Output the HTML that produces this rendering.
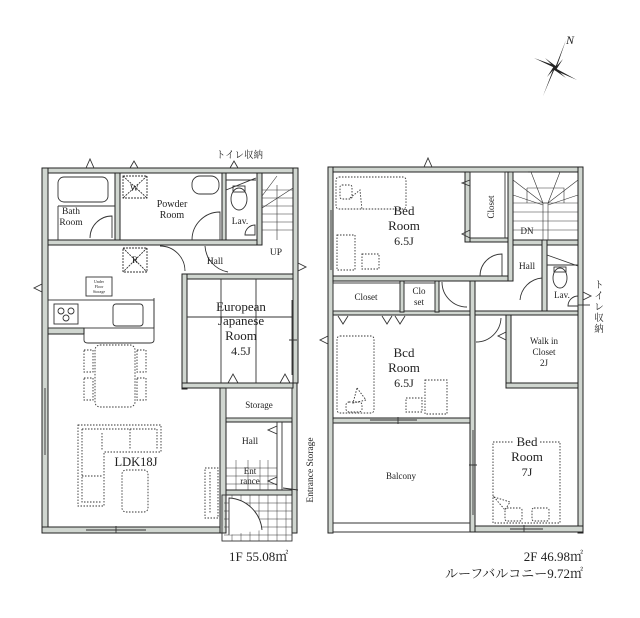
<!DOCTYPE html>
<html><head><meta charset="utf-8"><style>
html,body{margin:0;padding:0;background:#fff;}
svg{display:block;}
text{font-family:"Liberation Serif","Noto Serif CJK SC",serif;fill:#222;}
</style></head><body>
<svg width="640" height="618" viewBox="0 0 640 618" xmlns="http://www.w3.org/2000/svg">
<rect width="640" height="618" fill="#fff"/>
<g fill="#d0d6d0" stroke="#222" stroke-width="1">
<rect x="42" y="168" width="256" height="5"/>
<rect x="42" y="168" width="6" height="365"/>
<rect x="293" y="168" width="5" height="215"/>
<rect x="42" y="527" width="182" height="6"/>
<rect x="292" y="383" width="5" height="150"/>
<rect x="48" y="240" width="214" height="5"/>
<rect x="115" y="173" width="5" height="67"/>
<rect x="222" y="173" width="4" height="67"/>
<rect x="257" y="173" width="5" height="72"/>
<rect x="182" y="274" width="111" height="5"/>
<rect x="182" y="274" width="5" height="115"/>
<rect x="182" y="383" width="111" height="5"/>
<rect x="220" y="388" width="6" height="145"/>
<rect x="226" y="418" width="66" height="4"/>
<rect x="226" y="490" width="66" height="5"/>
<rect x="48" y="328" width="36" height="6"/>
<rect x="328" y="167" width="255" height="5"/>
<rect x="328" y="167" width="5" height="366"/>
<rect x="578" y="167" width="5" height="366"/>
<rect x="470" y="526" width="113" height="6"/>
<rect x="333" y="276" width="180" height="5"/>
<rect x="508" y="172" width="5" height="109"/>
<rect x="465" y="172" width="5" height="70"/>
<rect x="470" y="238" width="38" height="4"/>
<rect x="513" y="240" width="65" height="5"/>
<rect x="542" y="240" width="5" height="75"/>
<rect x="333" y="311" width="137" height="4"/>
<rect x="400" y="281" width="4" height="31"/>
<rect x="435" y="281" width="4" height="31"/>
<rect x="470" y="281" width="5" height="251"/>
<rect x="475" y="311" width="103" height="4"/>
<rect x="506" y="315" width="5" height="73"/>
<rect x="506" y="383" width="72" height="5"/>
<rect x="333" y="418" width="137" height="5"/>
</g>
<g fill="none" stroke="#333" stroke-width="0.9">
<rect x="58" y="177" width="50" height="25" rx="6"/>
<path d="M58 206 H115"/>
<path d="M58 206 V240"/>
<path d="M90 238 A22 22 0 0 1 112 216 V238"/>
<rect x="123" y="176" width="24" height="22" stroke-dasharray="2 1"/>
<path d="M123 176 L147 198 M147 176 L123 198" stroke-dasharray="2 1"/>
<rect x="192" y="176" width="27" height="18" rx="8"/>
<path d="M192 240 A28 28 0 0 1 220 212 V240"/>
<path d="M226 190 L256 178 M226 180 H256"/>
<ellipse cx="239" cy="199" rx="8" ry="11"/>
<rect x="233" y="186" width="12" height="6"/>
<path d="M245 235 A10 10 0 0 1 255 225 V235 Z"/>
<g stroke-width="0.6">
<path d="M277 185 V240"/>
<path d="M262 190 H293 M262 198 H293 M262 206 H293 M262 214 H293 M262 222 H293 M262 230 H293"/>
<path d="M262 208 L293 188 M262 196 L277 176"/>
</g>
<path d="M160 246 A25 25 0 0 1 185 271"/>
<path d="M228 272 A28 28 0 0 1 205 246"/>
<rect x="123" y="248" width="24" height="24" stroke-dasharray="2 1"/>
<path d="M123 248 L147 272 M147 248 L123 272" stroke-dasharray="2 1"/>
<rect x="86" y="277" width="26" height="19"/>
<rect x="48" y="300" width="106" height="28"/>
<path d="M154 298 V340 Q154 343 150 343 H88 Q84 343 84 340 V334"/>
<rect x="54" y="304" width="24" height="20"/>
<circle cx="61" cy="311" r="3"/><circle cx="71" cy="311" r="3"/><circle cx="66" cy="318" r="3"/>
<rect x="113" y="304" width="30" height="22" rx="3"/>
<g stroke-dasharray="1.5 1.5">
<rect x="95" y="345" width="40" height="62" rx="5"/>
<rect x="84" y="350" width="9" height="22"/><rect x="84" y="378" width="9" height="22"/>
<rect x="137" y="350" width="9" height="22"/><rect x="137" y="378" width="9" height="22"/>
<path d="M78 425 H161 V452 H104 V506 H78 Z"/>
<path d="M82 429 H157 V450 M82 429 V502 H102 M102 433 V450 M130 429 V450 M82 476 H102"/>
<rect x="122" y="470" width="26" height="42" rx="4"/>
<rect x="205" y="468" width="13" height="50"/>
<path d="M210 472 V514"/>
</g>
<path d="M45 388 V455 M86 530 H146 M116 526 V533"/>
<path d="M221 279 V383 M256 279 V383 M187 317 H293"/>
<path d="M292 300 V375 M289 340 H297"/>
<path d="M228 383 L233 374 L238 383 M280 383 L285 374 L290 383"/>
<rect x="226" y="388" width="66" height="30"/>
<path d="M277 422 V490 M282 422 V490"/>
<path d="M277 426 L268 430 L277 434 M277 477 L268 481 L277 485"/>
<g stroke-width="0.5">
<path d="M226 468 H277 M226 476 H277 M226 484 H277 M236 460 V490 M248 460 V490 M260 460 V490 M268 460 V490"/>
<path d="M224 503 H292 M224 511 H292 M224 519 H292 M224 527 H292 M224 535 H292 M232 495 V541 M241 495 V541 M250 495 V541 M259 495 V541 M268 495 V541 M277 495 V541 M286 495 V541"/>
</g>
<rect x="222" y="495" width="70" height="46"/>
<path d="M229 535 V498 A35 35 0 0 1 262 530" fill="#fff"/>
<path d="M283 488 L298 490"/>
<g stroke-dasharray="1.5 1.5">
<rect x="336" y="177" width="70" height="32" rx="3"/>
<rect x="340" y="185" width="12" height="14" rx="2"/>
<path d="M350 198 L360 190 L362 210"/>
<rect x="337" y="235" width="18" height="35"/>
<rect x="362" y="254" width="17" height="15"/>
</g>
<path d="M331 210 V270"/>
<rect x="470" y="172" width="35" height="66"/>
<path d="M470 180 L462 183 L470 186 M470 230 L462 234 L470 238"/>
<path d="M480 276 A22 22 0 0 1 502 254 V276"/>
<g stroke-width="0.6">
<rect x="543" y="203" width="5" height="37"/>
<path d="M513 203 H578 M513 212 H578 M513 221 H578 M513 230 H578"/>
<path d="M527 188 H564 V203 M527 188 V203 M513 180 L543 203 M548 203 L578 180 M531 172 L543 203 M560 172 L548 203 M513 195 L543 205 M578 195 L548 205"/>
</g>
<path d="M510 172 H528"/>
<path d="M547 255 L578 266 M547 265 H578"/>
<ellipse cx="560" cy="278" rx="7" ry="10"/>
<rect x="554" y="267" width="12" height="5"/>
<path d="M568 306 A10 10 0 0 1 578 296 V306 Z"/>
<path d="M520 300 A24 24 0 0 1 542 278"/>
<rect x="333" y="283" width="67" height="28"/>
<rect x="404" y="283" width="31" height="28"/>
<path d="M338 316 L343 324 L348 316 M382 316 L387 324 L392 316 M395 316 L400 324 L405 316"/>
<path d="M442 282 A25 25 0 0 0 467 307"/>
<path d="M476 342 A25 25 0 0 0 501 318"/>
<path d="M506 332 L498 336 L506 340"/>
<g stroke-dasharray="1.5 1.5">
<rect x="337" y="336" width="37" height="77" rx="3"/>
<path d="M357 388 L366 400 L353 403 Z"/>
<rect x="346" y="402" width="16" height="10" rx="3"/>
<rect x="425" y="380" width="22" height="34"/>
<rect x="406" y="398" width="16" height="14"/>
</g>
<path d="M370 420 H417 M398 417 V424"/>
<path d="M333 423 V532 H470 M333 523 H470 M333 420 V525"/>
<path d="M473 430 V515 M469 465 H477"/>
<g stroke-dasharray="1.5 1.5">
<path d="M493 442 H513 M540 442 H560 V523 H493 V442"/>
<path d="M494 497 L510 502 L505 510 Z"/>
<rect x="505" y="508" width="17" height="13" rx="2"/><rect x="532" y="508" width="17" height="13" rx="2"/>
</g>
<path d="M510 529 H543 M524 525 V532"/>
<path d="M86 168 L90 159 L94 168 M130 168 L134 161 L138 168 M230 168 L234 161 L238 168 M424 167 L428 158 L432 167"/>
<path d="M42 284 L34 288 L42 292 M298 263 L306 267 L298 271 M328 336 L320 340 L328 344 M583 292 L591 296 L583 300"/>
<path d="M578 305 H590"/>
</g>
<g fill="#222">
<polygon points="555,68 566,40 557,66"/>
<polygon points="555,68 543,96 553,70"/>
<polygon points="555,68 534,58 556,66"/>
<polygon points="555,68 577,80 554,70"/>
<polygon points="555,68 545,58 557,67"/>
<polygon points="555,68 566,78 553,69"/>
<polygon points="555,68 547,77 554,66"/>
<polygon points="555,68 563,59 556,70"/>
</g>
<text x="566" y="44" font-size="12" font-style="italic">N</text>
<g font-size="10" text-anchor="middle">
<text x="71" y="214" font-size="9.5">Bath</text><text x="71" y="225" font-size="9.5">Room</text>
<text x="172" y="207">Powder</text><text x="172" y="218">Room</text>
<text x="135" y="191" font-size="9">W.</text>
<text x="135" y="263" font-size="9">R</text>
<text x="240" y="224" font-size="9.5">Lav.</text>
<text x="215" y="264" font-size="9.5">Hall</text>
<text x="276" y="255" font-size="9.5">UP</text>
<text x="99" y="283" font-size="4">Under</text><text x="99" y="288" font-size="4">Floor</text><text x="99" y="293" font-size="4">Storage</text>
<text x="241" y="311" font-size="13">European</text>
<text x="241" y="325" font-size="13">Japanese</text>
<text x="241" y="340" font-size="13">Room</text>
<text x="241" y="355" font-size="12">4.5J</text>
<text x="259" y="408" font-size="9">Storage</text>
<text x="250" y="444" font-size="9.5">Hall</text>
<text x="250" y="474" font-size="9">Ent</text><text x="250" y="484" font-size="9">rance</text>
<text x="136" y="466" font-size="12.5">LDK18J</text>
<text x="404" y="215" font-size="13">Bed</text><text x="404" y="230" font-size="13">Room</text><text x="404" y="245" font-size="12">6.5J</text>
<text x="366" y="300" font-size="9">Closet</text>
<text x="419" y="294" font-size="9">Clo</text><text x="419" y="305" font-size="9">set</text>
<text x="527" y="234" font-size="9">DN</text>
<text x="527" y="269" font-size="9.5">Hall</text>
<text x="562" y="298" font-size="9">Lav.</text>
<text x="544" y="344" font-size="9">Walk in</text><text x="544" y="355" font-size="9">Closet</text><text x="544" y="366" font-size="9">2J</text>
<text x="404" y="357" font-size="13">Bcd</text><text x="404" y="372" font-size="13">Room</text><text x="404" y="387" font-size="12">6.5J</text>
<text x="401" y="479" font-size="9">Balcony</text>
<text x="527" y="446" font-size="13">Bed</text><text x="527" y="461" font-size="13">Room</text><text x="527" y="476" font-size="12">7J</text>
</g>
<text transform="translate(494,207) rotate(-90)" font-size="9" text-anchor="middle">Closet</text>
<text transform="translate(313,470) rotate(-90)" font-size="9.5" text-anchor="middle">Entrance Storage</text>
<text x="216" y="158" font-size="9.5" font-family="'Noto Sans CJK JP',sans-serif">トイレ収納</text>
<g font-size="9.5" font-family="'Noto Sans CJK JP',sans-serif" text-anchor="middle">
<text x="599" y="288">ト</text><text x="599" y="299">イ</text><text x="599" y="310">レ</text><text x="599" y="321">収</text><text x="599" y="332">納</text>
</g>
<text x="229" y="561" font-size="13">1F 55.08㎡</text>
<text x="583" y="561" font-size="13" text-anchor="end">2F 46.98㎡</text>
<text x="583" y="578" font-size="13" text-anchor="end">ルーフバルコニー9.72㎡</text>
</svg>
</body></html>
